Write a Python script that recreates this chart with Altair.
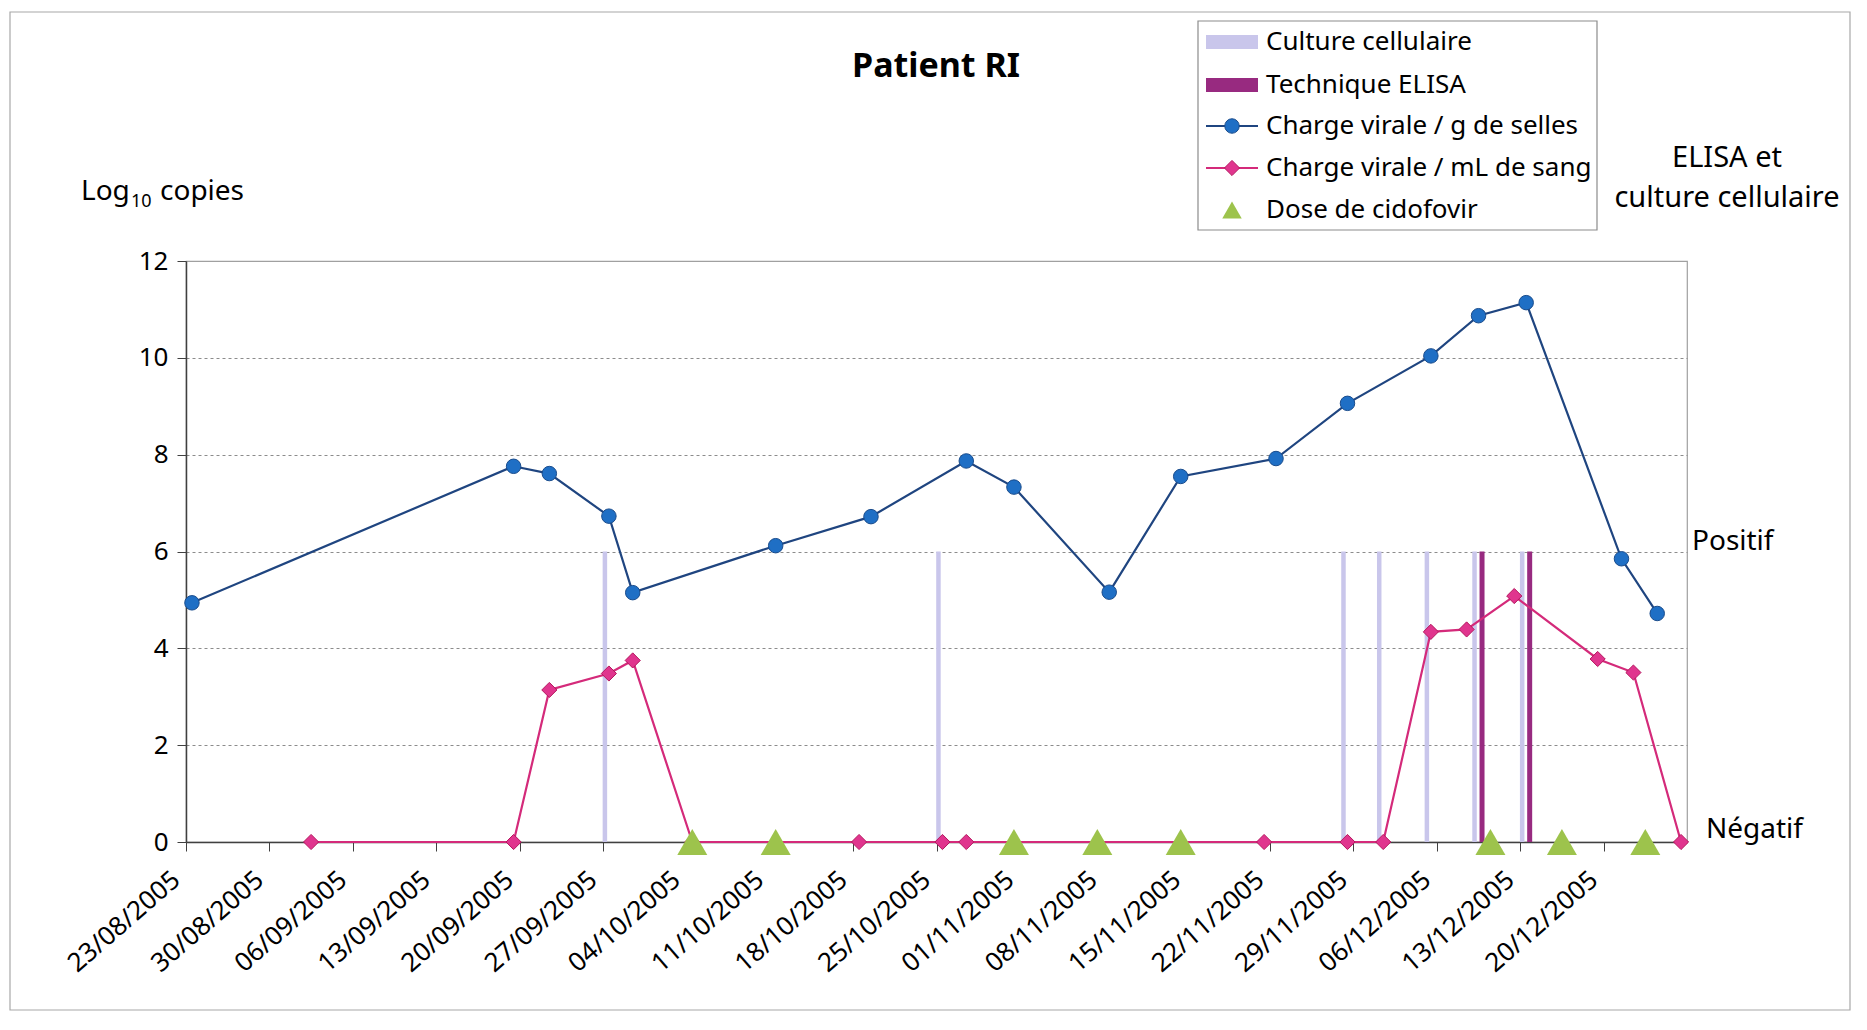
import altair as alt
import pandas as pd

# ---------------- data ----------------
week_ticks = ["2005-08-23", "2005-08-30", "2005-09-06", "2005-09-13", "2005-09-20",
              "2005-09-27", "2005-10-04", "2005-10-11", "2005-10-18", "2005-10-25",
              "2005-11-01", "2005-11-08", "2005-11-15", "2005-11-22", "2005-11-29",
              "2005-12-06", "2005-12-13", "2005-12-20"]

selles_dates = ["2005-08-23", "2005-09-19", "2005-09-22", "2005-09-27", "2005-09-29",
                "2005-10-11", "2005-10-19", "2005-10-27", "2005-10-31", "2005-11-08",
                "2005-11-14", "2005-11-22", "2005-11-28", "2005-12-05", "2005-12-09",
                "2005-12-13", "2005-12-21", "2005-12-24"]
selles_vals = [4.94, 7.76, 7.61, 6.73, 5.15, 6.12, 6.72, 7.87, 7.33, 5.16,
               7.55, 7.92, 9.06, 10.04, 10.87, 11.14, 5.85, 4.72]

sang_dates = ["2005-09-02", "2005-09-19", "2005-09-22", "2005-09-27", "2005-09-29",
              "2005-10-04", "2005-10-18", "2005-10-25", "2005-10-27", "2005-11-21",
              "2005-11-28", "2005-12-01", "2005-12-05", "2005-12-08", "2005-12-12",
              "2005-12-19", "2005-12-22", "2005-12-26"]
sang_vals = [0, 0, 3.14, 3.48, 3.75, 0, 0, 0, 0, 0,
             0, 0, 4.34, 4.39, 5.08, 3.78, 3.50, 0]

cidofovir_dates = ["2005-10-04", "2005-10-11", "2005-10-31", "2005-11-07",
                   "2005-11-14", "2005-12-10", "2005-12-16", "2005-12-23"]

culture_dates = ["2005-09-27", "2005-10-25", "2005-11-28", "2005-12-01",
                 "2005-12-05", "2005-12-09", "2005-12-13"]
elisa_dates = ["2005-12-09", "2005-12-13"]

positif_level = 6
negatif_level = 0

legend_labels = ["Culture cellulaire", "Technique ELISA", "Charge virale / g de selles",
                 "Charge virale / mL de sang", "Dose de cidofovir"]

FONT = "Noto Sans"
C_LAV = "#C9C6EB"
C_PUR = "#982A80"
C_BLUE_LINE = "#1F4580"
C_BLUE_PT = "#1F6FC5"
C_PINK_LINE = "#D42A7A"
C_PINK_PT = "#E0358E"
C_GREEN = "#9DC34C"


def noon(d):
    return d + "T12:00:00"


def dt(d):
    y, m, dd = d.split("-")
    return alt.DateTime(year=int(y), month=int(m), date=int(dd))


selles_df = pd.DataFrame({"date": [noon(d) for d in selles_dates], "v": selles_vals})
sang_df = pd.DataFrame({"date": [noon(d) for d in sang_dates], "v": sang_vals})
cido_df = pd.DataFrame({"date": [noon(d) for d in cidofovir_dates], "v": [negatif_level] * len(cidofovir_dates)})
culture_df = pd.DataFrame({"date": [noon(d) for d in culture_dates],
                           "lo": [negatif_level] * len(culture_dates),
                           "hi": [positif_level] * len(culture_dates)})
elisa_df = pd.DataFrame({"date": [noon(d) for d in elisa_dates],
                         "lo": [negatif_level] * len(elisa_dates),
                         "hi": [positif_level] * len(elisa_dates)})
one = pd.DataFrame({"a": [0]})

x_scale = alt.Scale(domain=[dt("2005-08-23"), dt("2005-12-27")], nice=False)
y_scale = alt.Scale(domain=[0, 12], nice=False)

x_axis = alt.Axis(values=[dt(d) for d in week_ticks], format="%d/%m/%Y",
                  labelAngle=-41, labelAlign="right", labelBaseline="middle",
                  labelFont=FONT, labelFontSize=26, labelColor="#000000",
                  labelPadding=25, labelOffset=-10, labelFlush=False, labelOverlap=False,
                  tickSize=9, tickColor="#404040", domainColor="#404040", domainWidth=1.5,
                  grid=False, title=None)
y_axis = alt.Axis(values=[0, 2, 4, 6, 8, 10, 12], labelFont=FONT, labelFontSize=26,
                  labelColor="#000000", labelPadding=9, tickSize=9, tickColor="#404040",
                  domainColor="#404040", domainWidth=1.5, grid=True, gridDash=[3, 3],
                  gridColor="#8c8c8c",
                  gridOpacity={"condition": {"test": "datum.value === 0 || datum.value === 12", "value": 0}, "value": 1},
                  labelFlush=False, title=None)

X = alt.X("date:T", scale=x_scale, axis=x_axis)
Y = alt.Y("v:Q", scale=y_scale, axis=y_axis)

# ---- decorative frame of the whole figure
frame = alt.Chart(one).mark_rect(fillOpacity=0, stroke="#a8a8a8", strokeWidth=1.2).encode(
    x=alt.value(-176), x2=alt.value(1664), y=alt.value(-249), y2=alt.value(749))

# ---- bars (culture / ELISA)
culture = alt.Chart(culture_df).mark_rule(color=C_LAV, strokeWidth=4.5, xOffset=-4).encode(
    x=X, y=alt.Y("lo:Q", scale=y_scale, axis=y_axis), y2="hi:Q")
elisa = alt.Chart(elisa_df).mark_rule(color=C_PUR, strokeWidth=5, xOffset=3.5).encode(
    x=X, y=alt.Y("lo:Q", scale=y_scale, axis=y_axis), y2="hi:Q")

# ---- lines
selles_line = alt.Chart(selles_df).mark_line(color=C_BLUE_LINE, strokeWidth=2.2).encode(x=X, y=Y)
selles_pts = alt.Chart(selles_df).mark_point(shape="circle", filled=True, fill=C_BLUE_PT,
                                             stroke="#1A4C8C", strokeWidth=1, opacity=1,
                                             size=210).encode(x=X, y=Y)
sang_line = alt.Chart(sang_df).mark_line(color=C_PINK_LINE, strokeWidth=2.2).encode(x=X, y=Y)
sang_pts = alt.Chart(sang_df).mark_point(shape="diamond", filled=True, fill=C_PINK_PT,
                                         stroke="#B5175E", strokeWidth=1, opacity=1,
                                         size=230).encode(x=X, y=Y)
cido = alt.Chart(cido_df).mark_point(shape="triangle-up", filled=True, fill=C_GREEN,
                                     strokeWidth=0, opacity=1, size=900).encode(x=X, y=Y)


# ---- texts
def txt(s, x, y, size=26, align="left", baseline="middle", weight="normal"):
    return alt.Chart(one).mark_text(text=s, font=FONT, fontSize=size, align=align,
                                    baseline=baseline, fontWeight=weight, color="#000000").encode(
        x=alt.value(x), y=alt.value(y))


title = txt("Patient RI", 750, -184, size=34, align="center", baseline="alphabetic", weight="bold")
ylab1 = txt("Log", -105, -61, size=28, baseline="alphabetic")
ylab2 = txt("10", -55, -54, size=18, baseline="alphabetic")
ylab3 = txt("copies", -26, -61, size=28, baseline="alphabetic")
elisa_t1 = txt("ELISA et", 1541, -103, size=29, align="center")
elisa_t2 = txt("culture cellulaire", 1541, -63, size=29, align="center")

positif = alt.Chart(one).mark_text(text="Positif", font=FONT, fontSize=28, align="left",
                                   baseline="middle", dy=-10, color="#000000").encode(
    x=alt.value(1506), y=alt.datum(positif_level, scale=y_scale))
negatif = alt.Chart(one).mark_text(text="Négatif", font=FONT, fontSize=28, align="left",
                                   baseline="middle", dy=-12, color="#000000").encode(
    x=alt.value(1520), y=alt.datum(negatif_level, scale=y_scale))

# ---- legend (manual)
LX0, LX1, LXC, LTX = 1020, 1072, 1046, 1080
rows = [-219, -176, -135, -93, -51]
leg_box = alt.Chart(one).mark_rect(fill="white", stroke="#8c8c8c", strokeWidth=1.2).encode(
    x=alt.value(1012), x2=alt.value(1411), y=alt.value(-240), y2=alt.value(-31))
leg = [leg_box]
leg.append(alt.Chart(one).mark_rect(color=C_LAV).encode(
    x=alt.value(LX0), x2=alt.value(LX1), y=alt.value(rows[0] - 7), y2=alt.value(rows[0] + 7)))
leg.append(alt.Chart(one).mark_rect(color=C_PUR).encode(
    x=alt.value(LX0), x2=alt.value(LX1), y=alt.value(rows[1] - 7), y2=alt.value(rows[1] + 7)))
leg.append(alt.Chart(one).mark_rule(color=C_BLUE_LINE, strokeWidth=2.2).encode(
    x=alt.value(LX0), x2=alt.value(LX1), y=alt.value(rows[2])))
leg.append(alt.Chart(one).mark_point(shape="circle", filled=True, fill=C_BLUE_PT, stroke="#1A4C8C",
                                     strokeWidth=1, opacity=1, size=210).encode(
    x=alt.value(LXC), y=alt.value(rows[2])))
leg.append(alt.Chart(one).mark_rule(color=C_PINK_LINE, strokeWidth=2.2).encode(
    x=alt.value(LX0), x2=alt.value(LX1), y=alt.value(rows[3])))
leg.append(alt.Chart(one).mark_point(shape="diamond", filled=True, fill=C_PINK_PT, stroke="#B5175E",
                                     strokeWidth=1, opacity=1, size=230).encode(
    x=alt.value(LXC), y=alt.value(rows[3])))
leg.append(alt.Chart(one).mark_point(shape="triangle-up", filled=True, fill=C_GREEN, strokeWidth=0,
                                     opacity=1, size=380).encode(
    x=alt.value(LXC), y=alt.value(rows[4])))
for lab, r in zip(legend_labels, rows):
    leg.append(txt(lab, LTX, r, size=26))

chart = alt.layer(
    frame, culture, elisa, selles_line, sang_line, selles_pts, sang_pts, cido,
    title, ylab1, ylab2, ylab3, elisa_t1, elisa_t2, positif, negatif, *leg
).properties(
    width=1501, height=581,
    autosize=alt.AutoSizeParams(type="none"),
    padding={"left": 178, "top": 253, "right": 165, "bottom": 170},
).configure_view(stroke="#a0a0a0", strokeWidth=1.2)

chart.save("out.html", embed_options={"renderer": "svg", "actions": False})
